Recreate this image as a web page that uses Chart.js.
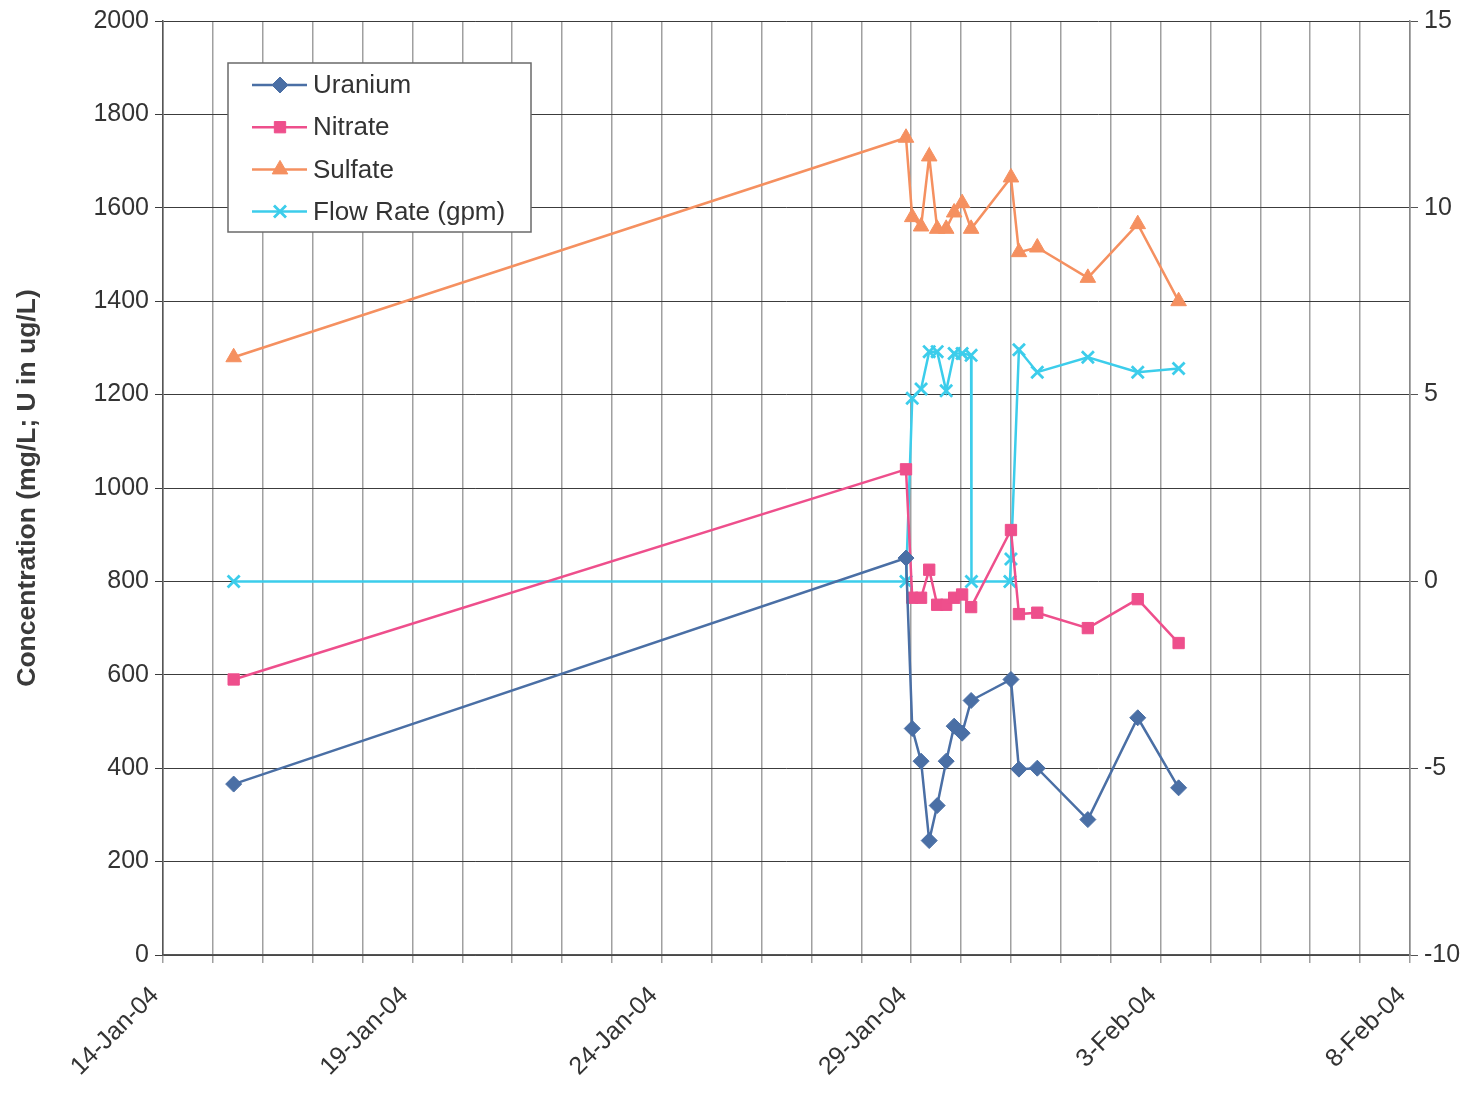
<!DOCTYPE html>
<html><head><meta charset="utf-8">
<script src="https://cdn.jsdelivr.net/npm/chart.js@4.4.1/dist/chart.umd.min.js"></script>
<style>html,body{margin:0;padding:0;background:#fff}canvas{display:block}</style>
</head><body>
<canvas id="c" width="1470" height="1097"></canvas>
<script>
// ---- data ----
const sampleTimes = ['2004-01-15 10:00','2004-01-28 21:30','2004-01-29 00:30','2004-01-29 04:45','2004-01-29 08:40','2004-01-29 12:30','2004-01-29 16:50','2004-01-29 20:40','2004-01-30 00:30','2004-01-30 04:50','2004-01-31 00:00','2004-01-31 03:50','2004-01-31 12:40','2004-02-01 13:00','2004-02-02 13:00','2004-02-03 08:40'];
const uranium = [366, 850, 485, 415, 245, 320, 415, 490, 475, 545, 590, 398, 400, 290, 508, 358];
const nitrate = [590, 1040, 765, 765, 825, 750, 750, 765, 772, 745, 910, 730, 733, 700, 762, 668];
const sulfate = [1280, 1750, 1580, 1560, 1710, 1555, 1555, 1590, 1610, 1555, 1665, 1505, 1515, 1450, 1565, 1400];
const flowTimes = ['2004-01-15 10:00','2004-01-28 21:30','2004-01-29 00:30','2004-01-29 04:45','2004-01-29 08:40','2004-01-29 12:30','2004-01-29 16:50','2004-01-29 20:40','2004-01-30 00:30','2004-01-30 04:50','2004-01-30 05:00','2004-01-30 23:30','2004-01-31 00:00','2004-01-31 03:50','2004-01-31 12:40','2004-02-01 13:00','2004-02-02 13:00','2004-02-03 08:40'];
const flowRate = [0, 0, 4.9, 5.15, 6.15, 6.15, 5.1, 6.1, 6.1, 6.05, 0, 0, 0.6, 6.2, 5.6, 6.0, 5.6, 5.7];
const seriesNames = ['Uranium', 'Nitrate', 'Sulfate', 'Flow Rate (gpm)'];
const axisStartDate = [2004, 1, 14];
const axisDays = 25;
const dateLabelEvery = 5;
const leftTicks = {min: 0, max: 2000, step: 200};
const rightTicks = {min: -10, max: 15, step: 5};
const yTitle = 'Concentration (mg/L; U in ug/L)';
const monthNames = ['Jan','Feb','Mar','Apr','May','Jun','Jul','Aug','Sep','Oct','Nov','Dec'];

// ---- helpers ----
const origin = Date.UTC(axisStartDate[0], axisStartDate[1]-1, axisStartDate[2]);
function toDay(s){
  const [d,t] = s.split(' ');
  const [Y,M,D] = d.split('-').map(Number);
  const [h,m] = t.split(':').map(Number);
  return (Date.UTC(Y,M-1,D,h,m) - origin) / 86400000;
}
function fmtDay(n){
  const d = new Date(origin + n*86400000);
  return d.getUTCDate() + '-' + monthNames[d.getUTCMonth()] + '-' + String(d.getUTCFullYear()).slice(2);
}
const pts = (times, vals) => times.map((t,i) => ({x: toDay(t), y: vals[i]}));

const FONT = "'Liberation Sans', Arial, sans-serif";
const colors = ['#4A6FA5', '#EE4F8C', '#F59060', '#3CCDEB'];
const styles = ['rectRot', 'rect', 'triangle', 'crossRot'];
const radii = [8, 8, 9, 8.5];

const datasets = [
  {label: seriesNames[0], data: pts(sampleTimes, uranium), yAxisID: 'y'},
  {label: seriesNames[1], data: pts(sampleTimes, nitrate), yAxisID: 'y'},
  {label: seriesNames[2], data: pts(sampleTimes, sulfate), yAxisID: 'y'},
  {label: seriesNames[3], data: pts(flowTimes, flowRate), yAxisID: 'y2'}
].map((d,i) => Object.assign(d, {
  borderColor: colors[i], backgroundColor: colors[i],
  pointBackgroundColor: colors[i], pointBorderColor: colors[i],
  pointStyle: styles[i], pointRadius: radii[i], pointBorderWidth: i === 3 ? 2.8 : 1,
  borderWidth: 2.5, tension: 0, fill: false
}));

const legendBox = {
  id: 'legendBox',
  afterDraw(chart){
    const ctx = chart.ctx;
    ctx.save();
    const bx = 228, by = 63, bw = 303, bh = 169;
    ctx.fillStyle = '#fff';
    ctx.fillRect(bx, by, bw, bh);
    ctx.strokeStyle = '#6a6a6a';
    ctx.lineWidth = 1.5;
    ctx.strokeRect(bx, by, bw, bh);
    chart.data.datasets.forEach((ds, i) => {
      const y = by + 22 + i * 42.2;
      ctx.strokeStyle = ds.borderColor;
      ctx.lineWidth = 2.5;
      ctx.beginPath(); ctx.moveTo(bx + 24, y); ctx.lineTo(bx + 79, y); ctx.stroke();
      ctx.fillStyle = ds.pointBackgroundColor;
      ctx.strokeStyle = ds.pointBorderColor;
      ctx.lineWidth = ds.pointBorderWidth;
      Chart.helpers.drawPoint(ctx, {pointStyle: ds.pointStyle, radius: ds.pointRadius, borderWidth: ds.pointBorderWidth, rotation: 0}, bx + 52, y);
      ctx.fillStyle = '#333';
      ctx.font = '26px ' + FONT;
      ctx.textBaseline = 'middle';
      ctx.textAlign = 'left';
      ctx.fillText(ds.label, bx + 85, y + 1);
    });
    ctx.restore();
  }
};

new Chart(document.getElementById('c'), {
  type: 'line',
  data: {datasets},
  plugins: [legendBox],
  options: {
    responsive: false, animation: false, devicePixelRatio: 1,
    layout: {padding: {top: 8, right: 0, left: 0, bottom: 0}},
    plugins: {legend: {display: false}, tooltip: {enabled: false}},
    scales: {
      x: {
        type: 'linear', position: 'bottom', min: 0, max: axisDays,
        ticks: {
          stepSize: 1, autoSkip: false, maxRotation: 45, minRotation: 45,
          font: {family: FONT, size: 25}, color: '#333', padding: 18, labelOffset: -8,
          callback: v => (Math.round(v) % dateLabelEvery === 0 ? fmtDay(v) : '')
        },
        grid: {color: '#a0a0a0', lineWidth: 1.5, tickLength: 8},
        border: {color: '#555', width: 1.5},
        afterFit: s => { s.height = 142; }
      },
      y: {
        position: 'left', min: leftTicks.min, max: leftTicks.max,
        ticks: {stepSize: leftTicks.step, font: {family: FONT, size: 25}, color: '#333', padding: 6,
          callback: v => String(v)},
        grid: {color: '#3c3c3c', lineWidth: 1, tickLength: 8},
        border: {color: '#555', width: 1.5},
        title: {display: true, text: yTitle, font: {family: FONT, size: 26.5, weight: 'bold'}, color: '#3a3a3a', padding: {top: 12, bottom: 0}},
        afterFit: s => { s.width = 163; }
      },
      y2: {
        position: 'right', min: rightTicks.min, max: rightTicks.max,
        ticks: {stepSize: rightTicks.step, font: {family: FONT, size: 25}, color: '#333', padding: 6,
          callback: v => String(v)},
        grid: {drawOnChartArea: false, color: '#555', tickLength: 8},
        border: {color: '#888', width: 1.5},
        afterFit: s => { s.width = 60; }
      }
    }
  }
});
</script>
</body></html>
